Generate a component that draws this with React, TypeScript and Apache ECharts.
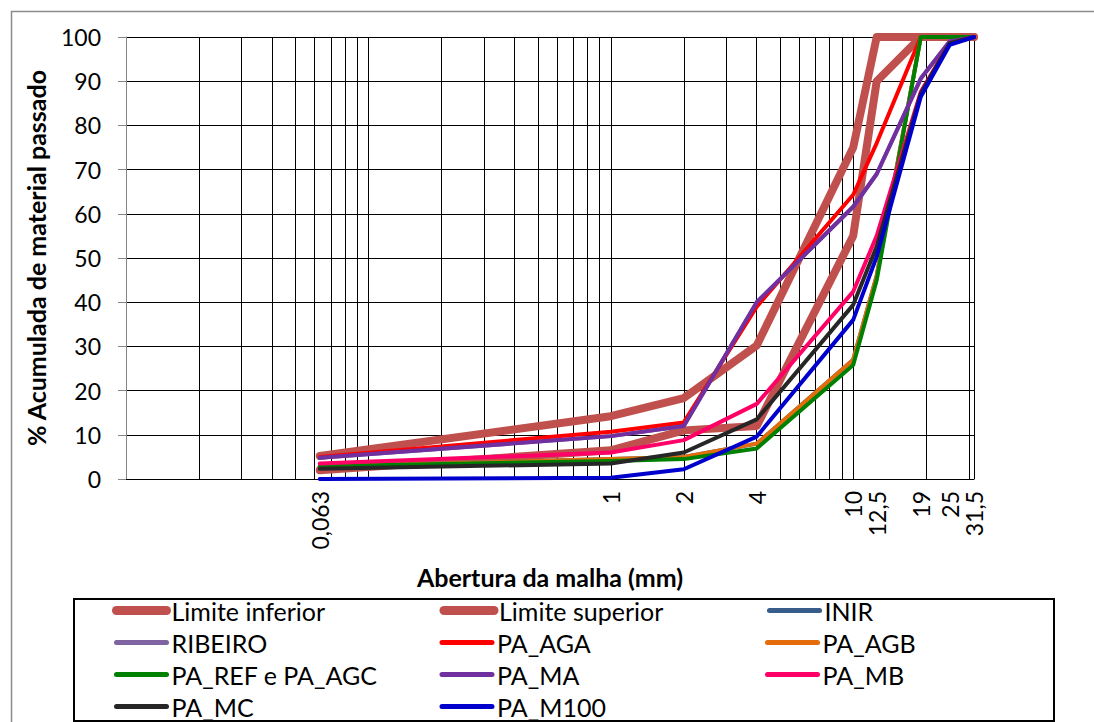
import { useEffect, useRef } from "react";
import * as echarts from "echarts";

// Sieve openings (mm)
const sieves = [0.063, 1, 2, 4, 10, 12.5, 19, 25, 31.5];
// Labelled ticks on the x axis
const tickLabels = [0.063, 1, 2, 4, 10, 12.5, 19, 25, 31.5];
// Vertical grid lines (log grid)
const gridLines = [
  0.02, 0.03, 0.04, 0.05, 0.06, 0.07, 0.08, 0.09,
  0.1, 0.2, 0.3, 0.4, 0.5, 0.6, 0.7, 0.8, 0.9,
  1, 2, 3, 4, 5, 6, 7, 8, 9,
  10, 20, 30, 31.5,
];
const yTicks = [0, 10, 20, 30, 40, 50, 60, 70, 80, 90, 100];

const limiteInferior = [2, 6.5, 11, 12, 55, 90, 100, 100, 100];
const limiteSuperior = [5.2, 14.2, 18.3, 30.2, 75, 100, 100, 100, 100];
const inir = [2.8, 4.5, 5, 8, 27, 46, 100, 100, 100];
const ribeiro = [4.8, 9.7, 12, 40, 61.6, 69, 90.6, 99, 100];
const paAga = [5, 10.7, 12.8, 39, 64.3, 76, 100, 100, 100];
const paAgb = [2.8, 4.5, 5, 8, 27, 46, 100, 100, 100];
const paRefAgc = [2.9, 4.1, 4.5, 6.9, 25.8, 45, 100, 100, 100];
const paMa = [4.8, 9.7, 12, 40, 61.6, 69, 90.6, 99, 100];
const paMb = [3.5, 6, 8.8, 17, 42.4, 55, 87.6, 98.6, 100];
const paMc = [2.3, 3.5, 6, 13.5, 39.4, 52.6, 87.2, 98.6, 100];
const paM100 = [0, 0.3, 2.2, 9.6, 36, 50.3, 86.5, 98.2, 100];

const seriesDefs = [
  { name: "Limite inferior", data: limiteInferior, color: "#C0504D", width: 8 },
  { name: "Limite superior", data: limiteSuperior, color: "#C0504D", width: 8 },
  { name: "INIR", data: inir, color: "#385D8A", width: 4 },
  { name: "RIBEIRO", data: ribeiro, color: "#8064A2", width: 4 },
  { name: "PA_AGA", data: paAga, color: "#FF0000", width: 4 },
  { name: "PA_AGB", data: paAgb, color: "#E46C0A", width: 4 },
  { name: "PA_REF e PA_AGC", data: paRefAgc, color: "#008000", width: 4 },
  { name: "PA_MA", data: paMa, color: "#7030A0", width: 4 },
  { name: "PA_MB", data: paMb, color: "#FF0066", width: 4 },
  { name: "PA_MC", data: paMc, color: "#262626", width: 4 },
  { name: "PA_M100", data: paM100, color: "#0000CC", width: 4 },
];

const FONT = "Lato";

function fmt(v: number) {
  return String(+Number(v).toPrecision(6)).replace(".", ",");
}

export default function App() {
  const ref = useRef<HTMLDivElement>(null);
  useEffect(() => {
    if (!ref.current) return;
    const chart = echarts.init(ref.current, undefined, { renderer: "svg" });
    chart.setOption({
      animation: false,
      backgroundColor: "#ffffff",
      textStyle: { fontFamily: FONT },
      grid: { left: 126, right: 120, top: 37, bottom: 243, containLabel: false },
      xAxis: {
        type: "log",
        logBase: 10,
        min: 0.01,
        max: 31.5,
        name: "Abertura da malha (mm)",
        nameLocation: "middle",
        nameGap: 84,
        nameTextStyle: { fontFamily: FONT, fontWeight: "bold", fontSize: 25, color: "#000", lineHeight: 28 },
        axisLine: { show: true, onZero: false, lineStyle: { color: "#000", width: 1 } },
        axisTick: { show: false, customValues: gridLines },
        minorTick: { show: false },
        splitLine: { show: true, lineStyle: { color: "#000", width: 1 } },
        axisLabel: {
          customValues: tickLabels,
          rotate: 90,
          margin: 12,
          fontSize: 23,
          color: "#000",
          fontFamily: FONT,
          formatter: (v: number) => fmt(v),
        },
      },
      yAxis: {
        type: "value",
        min: 0,
        max: 100,
        interval: 10,
        name: "% Acumulada de material passado",
        nameLocation: "middle",
        nameGap: 75,
        nameTextStyle: { fontFamily: FONT, fontWeight: "bold", fontSize: 25, color: "#000", lineHeight: 28 },
        axisLine: { show: true, onZero: false, lineStyle: { color: "#868686", width: 1 } },
        axisTick: { show: true, length: 8, lineStyle: { color: "#868686" } },
        splitLine: { show: true, lineStyle: { color: "#000", width: 1 } },
        axisLabel: {
          margin: 25,
          fontSize: 23,
          color: "#000",
          fontFamily: FONT,
          customValues: yTicks,
        },
      },
      legend: {
        left: 107,
        top: 593,
        width: 1000,
        orient: "horizontal",
        itemWidth: 50,
        itemHeight: 14,
        itemGap: 7,
        itemStyle: { opacity: 0 },
        textStyle: { fontFamily: FONT, fontSize: 25, color: "#000", width: 261, lineHeight: 24 },
        data: seriesDefs.map((s) => ({
          name: s.name,
          lineStyle: { width: s.width === 8 ? 9 : 5, color: s.color, cap: "round" },
        })),
      },
      graphic: [
        {
          type: "rect",
          left: 9,
          top: 9,
          shape: { x: 0, y: 0, width: 1200, height: 1000 },
          style: { fill: "none", stroke: "#8c8c8c", lineWidth: 1.5 },
          silent: true,
          z: -10,
        },
        {
          type: "rect",
          shape: { x: 74, y: 599, width: 980, height: 122 },
          style: { fill: "none", stroke: "#000", lineWidth: 2 },
          silent: true,
        },
      ],
      series: seriesDefs.map((s) => ({
        name: s.name,
        type: "line",
        symbol: "none",
        data: sieves.map((x, i) => [x, s.data[i]]),
        lineStyle: { width: s.width, color: s.color, cap: "round", join: "round" },
        itemStyle: { color: s.color },
        emphasis: { disabled: true },
      })),
    });
    return () => chart.dispose();
  }, []);
  return (
    <div
      ref={ref}
      style={{ position: "fixed", left: 0, top: 0, width: 1094, height: 722 }}
    />
  );
}
